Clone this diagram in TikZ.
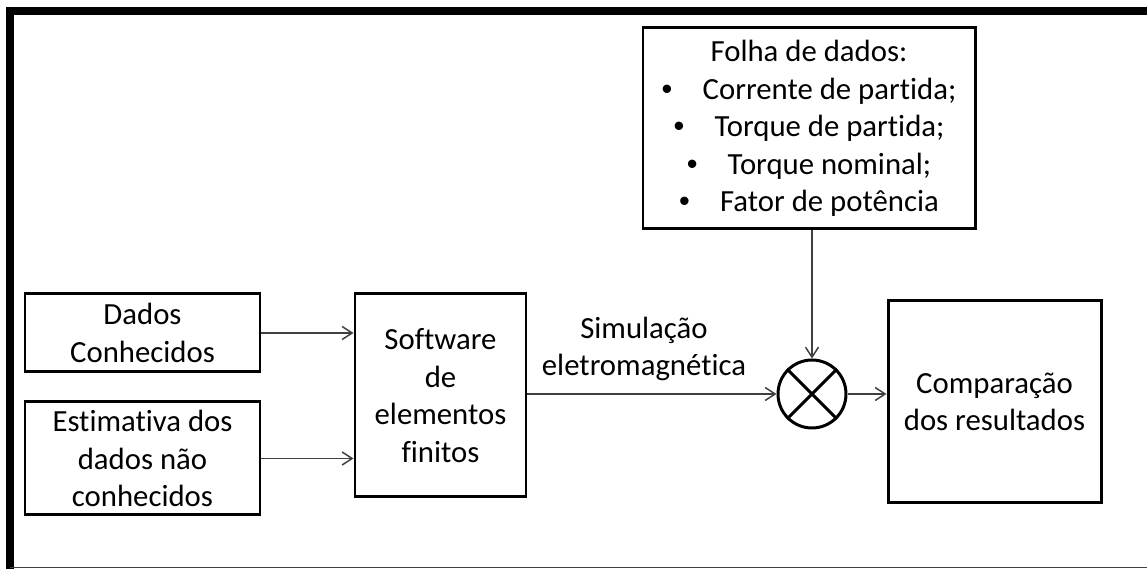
\documentclass[tikz,border=0pt]{standalone}
\usepackage{fontspec}
\setmainfont{Carlito}[Ligatures=NoCommon]
\newfontfamily\bulfont{Liberation Sans}
\usepackage{xcolor}
\usepackage{tikz}
\usetikzlibrary{arrows.meta, positioning, calc}
\definecolor{linegray}{RGB}{64,64,64}
\tikzset{
    block/.style={
        rectangle,
        draw=black,
        line width=1.7pt,
        fill=white,
        align=center,
        inner sep=0pt,
        font=\fontsize{17.5}{21.3}\selectfont
    },
    mixer/.style={
        circle,
        draw=black,
        line width=1.7pt,
        minimum size=1.36cm,
        inner sep=0pt
    },
    connection/.style={
        draw=linegray,
        line width=0.85pt,
        -{Straight Barb[length=2mm,width=2.6mm]}
    },
    label/.style={
        align=center,
        font=\fontsize{17.5}{21.3}\selectfont
    }
}
\newcommand{\bul}[1]{\makebox[0.82cm][l]{\bulfont\char"2022}#1}

\begin{document}
\begin{tikzpicture}

\useasboundingbox (0,0) rectangle (22.94,11.38);

% Frame
\draw[line width=4.5pt] (0.2,0) -- (0.2,11.16) -- (22.94,11.16);
\draw[linegray, line width=0.6pt] (0.2,0.03) -- (22.94,0.03);

% Inputs
\node[block, minimum width=4.70cm, minimum height=1.56cm] (dados) at (2.85, 4.72) {Dados\\Conhecidos};
\node[block, minimum width=4.70cm, minimum height=2.26cm] (estim) at (2.85, 2.21) {Estimativa dos\\dados n\~ao\\conhecidos};

% FEM software
\node[block, minimum width=3.42cm, minimum height=4.06cm] (software) at (8.81, 3.47) {Software\\de\\elementos\\finitos};

% Datasheet
\node[block, minimum width=6.64cm, minimum height=4.02cm] (folha) at (16.18, 8.81) {Folha de dados:\\
\bul{Corrente de partida;}\\
\bul{Torque de partida;}\\
\bul{Torque nominal;}\\
\bul{Fator de pot\^encia}};

% Comparison
\node[mixer] (mix) at (16.24, 3.50) {};
\draw[line width=1.7pt] (mix.45) -- (mix.225);
\draw[line width=1.7pt] (mix.135) -- (mix.315);

\node[block, minimum width=4.26cm, minimum height=4.04cm] (comp) at (19.89, 3.34) {Compara\c{c}\~ao\\dos resultados};

\node[label] (sim) at (12.88, 4.40) {Simula\c{c}\~ao\\eletromagn\'etica};

\draw[connection] (dados) -- (dados -| software.west);
\draw[connection] (estim) -- (estim -| software.west);
\draw[connection] (mix -| software.east) -- (mix);
\draw[connection] (folha.south -| mix) -- (mix);
\draw[connection] (mix) -- (mix -| comp.west);

\end{tikzpicture}
\end{document}
